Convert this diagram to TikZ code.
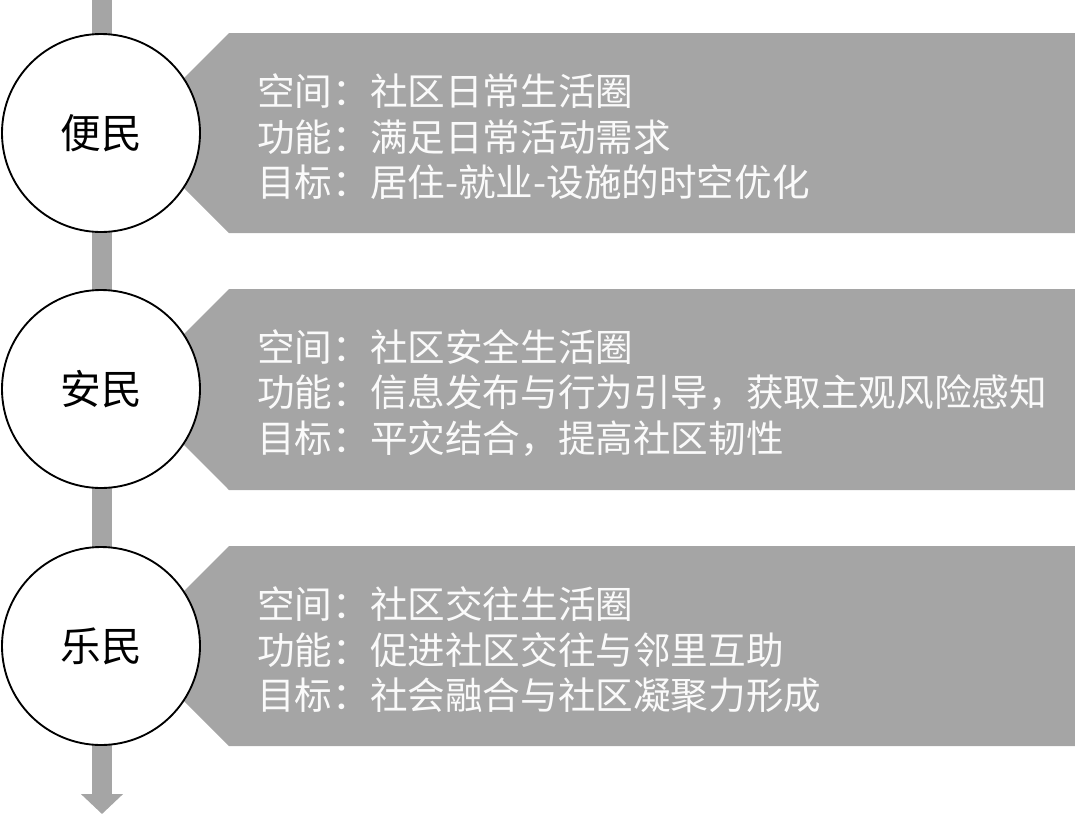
\documentclass[tikz,border=0pt]{standalone}
\usepackage{fontspec}
\newfontfamily\cjk{Noto Sans CJK SC}
\usetikzlibrary{arrows.meta}
\definecolor{boxgray}{RGB}{165,165,165}
\definecolor{txtwhite}{RGB}{250,250,250}
\tikzset{
  pxgrid/.style={x=0.75pt,y=-0.75pt},
  stagecircle/.style={circle,draw=black,line width=1.4pt,fill=white,minimum size=148.5pt,inner sep=0pt,font=\cjk\fontsize{30.5}{36}\selectfont},
  infobox/.style={fill=boxgray},
  infotext/.style={anchor=west,align=left,inner sep=0pt,text=txtwhite,font=\cjk\fontsize{28.2}{34.2}\selectfont},
  spine/.style={draw=boxgray,line width=15pt,-{Triangle[width=30.75pt,length=15pt,fill=boxgray]}}
}
\begin{document}
\begin{tikzpicture}[pxgrid]
\useasboundingbox (0,0) rectangle (1075,815);
% spine arrow
\coordinate (top) at (102,0);
\coordinate (bottom) at (102,814);
\draw[spine] (top) -- (bottom);
% boxes
\foreach \t/\c in {33/133,289/389.5,546/646}{
  \fill[infobox] (129,\c) -- (229,\t) -- (1075,\t) -- (1075,{2*\c-\t}) -- (229,{2*\c-\t}) -- cycle;
}
% texts
\node[infotext] (t1) at (257,137) {空间：社区日常生活圈\\功能：满足日常活动需求\\目标：居住-就业-设施的时空优化};
\node[infotext] (t2) at (257,393) {空间：社区安全生活圈\\功能：信息发布与行为引导，获取主观风险感知\\目标：平灾结合，提高社区韧性};
\node[infotext] (t3) at (257,650) {空间：社区交往生活圈\\功能：促进社区交往与邻里互助\\目标：社会融合与社区凝聚力形成};
% circles
\node[stagecircle] (c1) at (101,133) {便民};
\node[stagecircle] (c2) at (101,389) {安民};
\node[stagecircle] (c3) at (101,646) {乐民};
\end{tikzpicture}
\end{document}
